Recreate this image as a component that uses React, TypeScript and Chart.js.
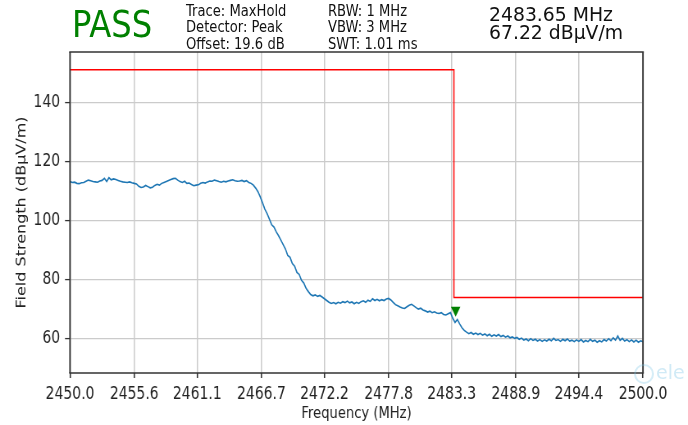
import React, { useEffect, useRef } from "react";
import { Chart, registerables } from "chart.js";

Chart.register(...registerables);

// ---- data ----
const SWEEP_START_MHZ = 2450;
const SWEEP_STEP_MHZ = 0.2;

// measured trace level (dBµV/m), one value per sweep step
const traceLevels = [
  113.2, 112.9, 113.0, 112.6, 112.5, 112.8, 112.9, 113.3, 113.7, 113.5,
  113.2, 113.1, 113.0, 113.4, 113.6, 114.3, 113.2, 114.5, 113.8, 114.1,
  113.9, 113.6, 113.3, 113.1, 113.0, 112.9, 113.1, 112.8, 112.6, 112.4,
  111.6, 111.2, 111.4, 111.9, 111.5, 111.1, 111.3, 111.9, 112.3, 112.0,
  112.6, 112.9, 113.2, 113.6, 113.9, 114.2, 114.3, 113.7, 113.2, 112.9,
  113.3, 112.6, 112.7, 112.2, 111.8, 112.0, 112.1, 112.6, 112.9, 112.7,
  113.1, 113.4, 113.3, 113.7, 113.5, 113.2, 113.0, 113.3, 113.1, 113.4,
  113.6, 113.8, 113.5, 113.3, 113.4, 113.6, 113.2, 113.5, 112.9, 112.6,
  112.0, 111.0, 109.8, 108.0, 106.0, 103.9, 102.4, 100.5, 98.6, 97.8,
  96.2, 94.9, 93.4, 91.9, 90.4, 88.2, 87.6, 85.5, 84.6, 82.5,
  81.8, 79.8, 78.9, 77.1, 76.0, 75.0, 74.6, 74.9, 74.4, 74.7,
  74.2, 73.6, 73.0, 72.4, 72.0, 72.3, 71.9, 72.4, 72.1, 72.6,
  72.3, 72.8, 72.2, 72.5, 71.9, 72.4, 72.0, 72.6, 72.9, 72.4,
  73.1, 72.7, 73.6, 73.0, 73.4, 72.9, 73.3, 73.0, 73.5, 73.7,
  73.2, 72.4, 71.6, 71.2, 70.8, 70.5, 70.3, 70.9, 71.4, 71.7,
  71.2, 70.6, 70.1, 70.4, 69.8, 69.5, 69.1, 69.4, 68.9, 69.2,
  68.8, 68.6, 68.9, 68.3, 68.1, 68.5, 68.9, 67.0, 65.6, 66.6,
  65.1, 63.8, 62.9, 62.3, 61.8, 62.2, 61.6, 62.0, 61.5, 61.9,
  61.3, 61.7, 61.1, 61.6, 60.9, 61.4, 61.0, 61.5, 60.8, 61.2,
  60.6, 61.0, 60.4, 60.7, 60.2, 60.5, 59.9, 60.3, 59.6, 60.0,
  59.4, 60.1, 59.5, 59.9, 59.3, 59.8, 59.2, 59.7, 59.3, 59.9,
  59.4, 60.2, 59.5, 59.8, 59.2, 59.9, 59.4, 60.0, 59.3, 59.6,
  59.1, 59.7, 59.2, 59.8, 59.0, 59.5, 59.1, 59.9, 59.2, 59.6,
  58.9, 59.4, 59.0, 59.8, 59.3, 60.1, 59.4, 60.4, 59.6, 61.0,
  59.5, 60.2, 59.3, 59.8, 59.1, 59.7, 59.0, 59.6, 58.9, 59.4,
  59.1,
];

const limitFreqs = [2450, 2483.5, 2483.5, 2500];
const limitLevels = [151, 151, 74, 74];

const markerFreqs = [2483.65];
const markerLevels = [69.8];

const xTickValues = [2450.0, 2455.6, 2461.1, 2466.7, 2472.2, 2477.8, 2483.3, 2488.9, 2494.4, 2500.0];
const yTickValues = [60, 80, 100, 120, 140];

const X_MIN = 2450;
const X_MAX = 2500;
const Y_MIN = 48.5;
const Y_MAX = 157;

const verdictText = "PASS";
const settingsLeft = ["Trace: MaxHold", "Detector: Peak", "Offset: 19.6 dB"];
const settingsRight = ["RBW: 1 MHz", "VBW: 3 MHz", "SWT: 1.01 ms"];
const markerReadout = ["2483.65 MHz", "67.22 dBµV/m"];
const xAxisTitle = "Frequency (MHz)";
const yAxisTitle = "Field Strength (dBµV/m)";
const watermarkText = "ele";

// ---- layout ----
const VIEW_W = 688;
const VIEW_H = 425;
const SQUEEZE = 0.82;
const CANVAS_W = Math.round(VIEW_W / SQUEEZE);
const FONT = "'DejaVu Sans', 'Liberation Sans', sans-serif";
const PLOT_LEFT = 70 / SQUEEZE;
const PLOT_RIGHT_PAD = CANVAS_W - 643 / SQUEEZE;
const PLOT_TOP = 52;
const X_AXIS_H = 52;

const framePlugin = {
  id: "frame",
  afterDatasetsDraw(chart: any) {
    const { ctx, chartArea } = chart;
    const { left, right, top, bottom } = chartArea;
    ctx.save();
    ctx.strokeStyle = "#333333";
    ctx.lineWidth = 1.5;
    ctx.beginPath();
    ctx.moveTo(left - 1, top);
    ctx.lineTo(right + 1, top);
    ctx.moveTo(left - 1, bottom);
    ctx.lineTo(right + 1, bottom);
    ctx.stroke();
    ctx.lineWidth = 1.5 / SQUEEZE;
    ctx.beginPath();
    ctx.moveTo(left, top);
    ctx.lineTo(left, bottom);
    ctx.moveTo(right, top);
    ctx.lineTo(right, bottom);
    ctx.stroke();
    ctx.restore();
  },
};

const textBase: React.CSSProperties = {
  position: "absolute",
  whiteSpace: "nowrap",
  fontFamily: FONT,
  transformOrigin: "0 0",
  color: "#111",
};

export default function App() {
  const ref = useRef<HTMLCanvasElement>(null);

  useEffect(() => {
    const canvas = ref.current;
    if (!canvas) return;
    const traceData = traceLevels.map((y, i) => ({ x: SWEEP_START_MHZ + i * SWEEP_STEP_MHZ, y }));
    const limitData = limitFreqs.map((x, i) => ({ x, y: limitLevels[i] }));
    const markerData = markerFreqs.map((x, i) => ({ x, y: markerLevels[i] }));

    const chart = new Chart(canvas, {
      type: "line",
      data: {
        datasets: [
          {
            data: traceData,
            borderColor: "#1f77b4",
            borderWidth: 1.6,
            pointRadius: 0,
            tension: 0,
            fill: false,
          },
          {
            data: limitData,
            borderColor: "#ff0000",
            borderWidth: 1.5,
            pointRadius: 0,
            tension: 0,
            fill: false,
          },
          {
            data: markerData,
            showLine: false,
            pointStyle: "triangle",
            pointRotation: 180,
            pointRadius: 6.7,
            pointBackgroundColor: "#008000",
            pointBorderColor: "#008000",
            pointBorderWidth: 0,
          },
        ],
      } as any,
      options: {
        responsive: false,
        animation: false,
        devicePixelRatio: 1,
        events: [],
        layout: { padding: { top: PLOT_TOP, right: PLOT_RIGHT_PAD, bottom: 0, left: 0 } },
        plugins: { legend: { display: false }, tooltip: { enabled: false } },
        scales: {
          x: {
            type: "linear",
            min: X_MIN,
            max: X_MAX,
            afterBuildTicks: (s: any) => {
              s.ticks = xTickValues.map((v) => ({ value: v }));
            },
            afterFit: (s: any) => {
              s.height = X_AXIS_H;
            },
            ticks: {
              autoSkip: false,
              maxRotation: 0,
              minRotation: 0,
              padding: 6,
              color: "#222",
              font: { family: FONT, size: 17 },
              callback: (v: any) => Number(v).toFixed(1),
            },
            grid: {
              color: "#cbcbcb",
              lineWidth: 1.5,
              drawTicks: true,
              tickLength: 5,
              tickColor: "#333",
              tickWidth: 1.6,
            },
            border: { display: false },
            title: {
              display: true,
              text: xAxisTitle,
              color: "#222",
              font: { family: FONT, size: 16 },
              padding: { top: 0, bottom: 1.2 },
            },
          },
          y: {
            type: "linear",
            min: Y_MIN,
            max: Y_MAX,
            afterBuildTicks: (s: any) => {
              s.ticks = yTickValues.map((v) => ({ value: v }));
            },
            afterFit: (s: any) => {
              s.width = PLOT_LEFT;
            },
            ticks: {
              padding: 6,
              color: "#222",
              font: { family: FONT, size: 17 },
              callback: (v: any) => String(v),
            },
            grid: {
              color: "#cbcbcb",
              lineWidth: 1.2,
              drawTicks: true,
              tickLength: 6.1,
              tickColor: "#333",
              tickWidth: 1.3,
            },
            border: { display: false },
            title: {
              display: true,
              text: yAxisTitle,
              color: "#222",
              font: { family: FONT, size: 16 },
              padding: { top: 17.2, bottom: 0 },
            },
          },
        },
      } as any,
      plugins: [framePlugin],
    });
    return () => chart.destroy();
  }, []);

  return (
    <div
      style={{
        position: "fixed",
        left: 0,
        top: 0,
        width: VIEW_W,
        height: VIEW_H,
        overflow: "hidden",
        background: "#fff",
      }}
    >
      <div
        style={{
          position: "absolute",
          left: 0,
          top: 0,
          width: CANVAS_W,
          height: VIEW_H,
          transform: `scaleX(${SQUEEZE})`,
          transformOrigin: "0 0",
        }}
      >
        <canvas
          ref={ref}
          width={CANVAS_W}
          height={VIEW_H}
          style={{ display: "block", width: CANVAS_W, height: VIEW_H }}
        />
      </div>

      <div
        style={{
          ...textBase,
          left: 72,
          top: 5.5,
          fontSize: 37,
          lineHeight: "37px",
          color: "#008000",
          transform: "scaleX(0.87)",
        }}
      >
        {verdictText}
      </div>

      <div
        style={{
          ...textBase,
          left: 185.6,
          top: 3.1,
          fontSize: 16,
          lineHeight: "16.2px",
          transform: "scaleX(0.82)",
        }}
      >
        {settingsLeft.map((t) => (
          <div key={t}>{t}</div>
        ))}
      </div>

      <div
        style={{
          ...textBase,
          left: 327.5,
          top: 3.1,
          fontSize: 16,
          lineHeight: "16.2px",
          transform: "scaleX(0.82)",
        }}
      >
        {settingsRight.map((t) => (
          <div key={t}>{t}</div>
        ))}
      </div>

      <div
        style={{
          ...textBase,
          left: 489,
          top: 6,
          fontSize: 20,
          lineHeight: "17.6px",
          transform: "scaleX(0.94)",
        }}
      >
        {markerReadout.map((t) => (
          <div key={t}>{t}</div>
        ))}
      </div>

      <div
        style={{
          position: "absolute",
          left: 634,
          top: 364,
          width: 16,
          height: 16,
          borderRadius: "50%",
          border: "2px solid rgba(120,195,230,0.3)",
        }}
      />
      <div
        style={{
          ...textBase,
          left: 656,
          top: 360,
          fontSize: 19,
          lineHeight: "24px",
          color: "rgba(120,195,230,0.35)",
        }}
      >
        {watermarkText}
      </div>
    </div>
  );
}
